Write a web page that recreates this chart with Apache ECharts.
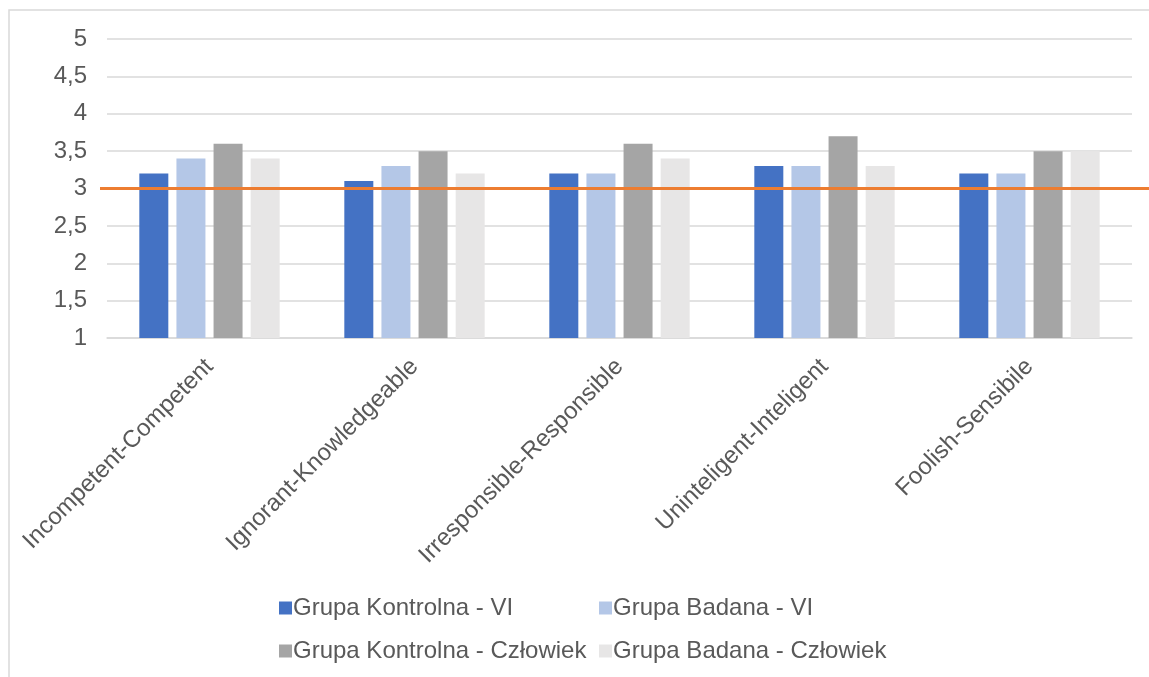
<!DOCTYPE html>
<html>
<head>
<meta charset="utf-8">
<script src="https://cdn.jsdelivr.net/npm/echarts@6/dist/echarts.min.js"></script>
<style>
  html, body { margin: 0; padding: 0; background: #fff; }
  #chart { width: 1149px; height: 677px; }
</style>
</head>
<body>
<div id="chart"></div>
<script>
// Semantic differential pairs
const categories = [
  'Incompetent-Competent',
  'Ignorant-Knowledgeable',
  'Irresponsible-Responsible',
  'Uninteligent-Inteligent',
  'Foolish-Sensibile'
];

// Mean ratings per group
const kontrolnaVI = [3.2, 3.1, 3.2, 3.3, 3.2];
const badanaVI = [3.4, 3.3, 3.2, 3.3, 3.2];
const kontrolnaCzlowiek = [3.6, 3.5, 3.6, 3.7, 3.5];
const badanaCzlowiek = [3.4, 3.2, 3.4, 3.3, 3.5];

// Neutral midpoint of the scale
const neutralValue = 3;

const seriesNames = [
  'Grupa Kontrolna - VI',
  'Grupa Badana - VI',
  'Grupa Kontrolna - Człowiek',
  'Grupa Badana - Człowiek'
];

const FONT = 'Liberation Sans, Arial, sans-serif';
const FS = 24;
const TEXT = '#595959';
const colors = ['#4472C4', '#B4C7E7', '#A5A5A5', '#E7E6E6'];

const chart = echarts.init(document.getElementById('chart'));

const barBase = {
  type: 'bar',
  xAxisIndex: 0,
  yAxisIndex: 0,
  barWidth: 29,
  barGap: '28%',
  z: 2
};

const legendText = { color: TEXT, fontSize: FS, fontFamily: FONT, padding: [0, 0, 0, -4], lineHeight: 24 };

chart.setOption({
  animation: false,
  textStyle: { fontFamily: FONT },
  color: colors,
  graphic: [{
    type: 'rect',
    shape: { x: 9, y: 10, width: 1300, height: 900 },
    style: { fill: 'none', stroke: '#d9d9d9', lineWidth: 1.5 },
    silent: true,
    z: -1
  }],
  legend: [{
    data: [seriesNames[0], seriesNames[2]],
    orient: 'vertical',
    left: 274,
    top: 591,
    itemWidth: 13,
    itemHeight: 13,
    itemGap: 19,
    icon: 'rect',
    textStyle: legendText
  }, {
    data: [seriesNames[1], seriesNames[3]],
    orient: 'vertical',
    left: 594,
    top: 591,
    itemWidth: 13,
    itemHeight: 13,
    itemGap: 19,
    icon: 'rect',
    textStyle: legendText
  }],
  grid: [{
    left: 107,
    right: 17,
    top: 39,
    bottom: 339
  }, {
    // wider grid carrying the neutral reference line
    left: 100,
    right: -5,
    top: 39,
    bottom: 339
  }],
  xAxis: [{
    type: 'category',
    gridIndex: 0,
    data: categories,
    axisLine: { lineStyle: { color: '#d9d9d9', width: 1.5 } },
    axisTick: { show: false },
    axisLabel: {
      rotate: 45,
      interval: 0,
      margin: 25,
      color: TEXT,
      fontSize: FS,
      fontFamily: FONT
    }
  }, {
    type: 'value',
    gridIndex: 1,
    min: 0,
    max: 1,
    show: false
  }],
  yAxis: [{
    type: 'value',
    gridIndex: 0,
    min: 1,
    max: 5,
    interval: 0.5,
    axisLine: { show: false },
    axisTick: { show: false },
    splitLine: { lineStyle: { color: '#d9d9d9', width: 1.5 } },
    axisLabel: {
      margin: 20,
      color: TEXT,
      fontSize: FS,
      fontFamily: FONT,
      formatter: v => String(v).replace('.', ',')
    }
  }, {
    type: 'value',
    gridIndex: 1,
    min: 1,
    max: 5,
    show: false
  }],
  series: [
    Object.assign({ name: seriesNames[0], data: kontrolnaVI }, barBase),
    Object.assign({ name: seriesNames[1], data: badanaVI }, barBase),
    Object.assign({ name: seriesNames[2], data: kontrolnaCzlowiek }, barBase),
    Object.assign({ name: seriesNames[3], data: badanaCzlowiek }, barBase),
    {
      type: 'line',
      xAxisIndex: 1,
      yAxisIndex: 1,
      data: [[0, neutralValue], [1, neutralValue]],
      symbol: 'none',
      lineStyle: { color: '#ED7D31', width: 3 },
      z: 5,
      silent: true
    }
  ]
});
</script>
</body>
</html>
